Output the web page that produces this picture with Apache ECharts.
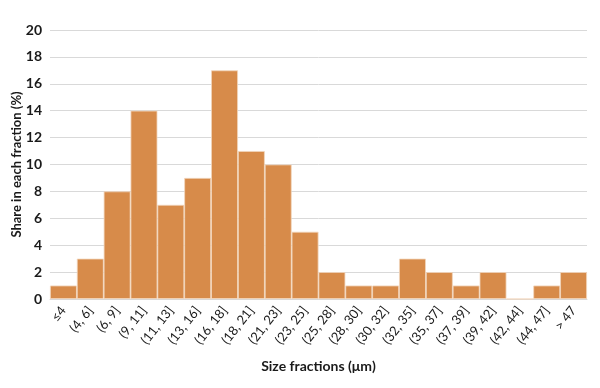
<!DOCTYPE html>
<html><head><meta charset="utf-8">
<script src="https://cdn.jsdelivr.net/npm/echarts@6/dist/echarts.min.js"></script>
<style>html,body{margin:0;padding:0;background:#fff}#c{width:600px;height:388px}</style>
</head><body><div id="c"></div>
<script>
const categories = ['≤4','(4, 6]','(6, 9]','(9, 11]','(11, 13]','(13, 16]','(16, 18]','(18, 21]','(21, 23]','(23, 25]','(25, 28]','(28, 30]','(30, 32]','(32, 35]','(35, 37]','(37, 39]','(39, 42]','(42, 44]','(44, 47]','> 47'];
const shares = [1,3,8,14,7,9,17,11,10,5,2,1,1,3,2,1,2,0,1,2];
const yTicks = {min:0, max:20, interval:2};
const font = 'Lato, "Open Sans", sans-serif';
const chart = echarts.init(document.getElementById('c'), null, {renderer:'canvas'});
chart.setOption({
  animation:false,
  grid:{left:50, right:13, top:30, bottom:89, containLabel:false, outerBoundsMode:'none'},
  xAxis:{type:'category', data:categories,
    axisLine:{lineStyle:{color:'#d9d9d9'}}, axisTick:{show:false},
    axisLabel:{interval:0, rotate:52, color:'#1a1a1a', fontFamily:font, fontSize:13, margin:9},
    name:'Size fractions (μm)', nameLocation:'middle', nameGap:60, nameMoveOverlap:false,
    nameTextStyle:{color:'#1a1a1a', fontFamily:font, fontSize:14, fontWeight:'bold'}},
  yAxis:{type:'value', min:yTicks.min, max:yTicks.max, interval:yTicks.interval,
    splitLine:{lineStyle:{color:'#d9d9d9', width:1}},
    axisLine:{show:false}, axisTick:{show:false},
    axisLabel:{color:'#1a1a1a', fontFamily:font, fontSize:14, fontWeight:'bold', margin:8},
    name:'Share in each fraction (%)', nameLocation:'middle', nameGap:27, nameMoveOverlap:false,
    nameTextStyle:{color:'#1a1a1a', fontFamily:font, fontSize:13, fontWeight:'bold'}},
  series:[{type:'bar', data:shares, barWidth:'100%',
    itemStyle:{color:'#D78B4A', borderColor:'#f1d6bc', borderWidth:0.8}}]
});
</script></body></html>
